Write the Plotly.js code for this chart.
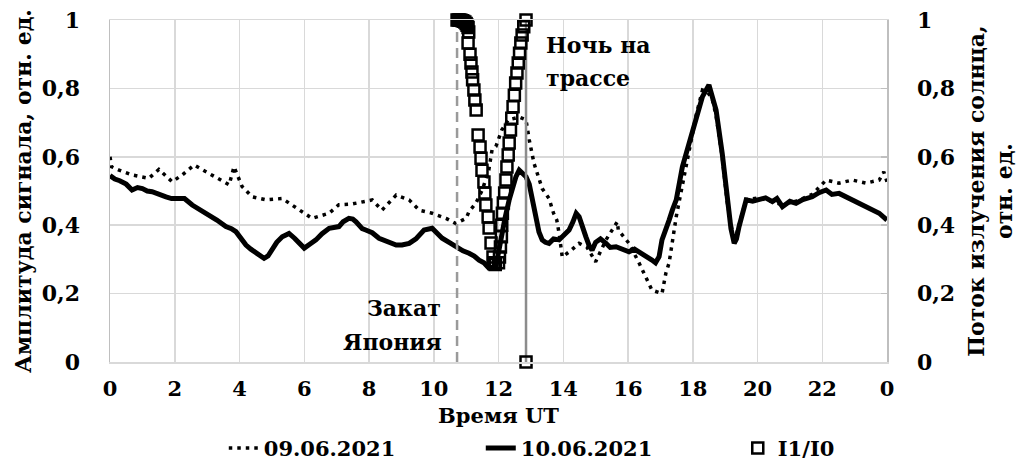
<!DOCTYPE html>
<html>
<head>
<meta charset="utf-8">
<script src="https://cdn.plot.ly/plotly-3.0.1.min.js"></script>
<style>html,body{margin:0;padding:0;background:#fff;}#chart{width:1024px;height:464px;}</style>
</head>
<body>
<div id="chart"></div>
<script>
// ---- data ----
const hours0906 = [0.0,0.05,0.28,0.68,1.2,1.51,1.92,2.23,2.6,2.97,3.37,3.68,3.83,4.08,4.39,4.82,5.32,5.84,6.24,6.77,7.07,7.48,8.1,8.4,8.84,9.24,9.55,9.95,10.38,10.68,11.0,11.09,11.3,11.5,11.7,11.8,11.92,12.1,12.3,12.64,12.85,12.95,13.1,13.35,13.56,13.7,13.8,13.87,13.97,14.25,14.49,14.73,15.0,15.32,15.67,15.7,16.03,16.34,16.55,16.74,17.05,17.17,17.27,17.37,17.49,17.67,17.9,18.1,18.3,18.45,18.6,18.72,18.91,19.06,19.28,19.43,19.65,20.05,20.46,20.77,21.19,21.69,22.12,22.52,22.93,23.35,23.76,23.9,24.0];
const values0906 = [0.60,0.571,0.561,0.547,0.537,0.563,0.527,0.547,0.576,0.556,0.532,0.518,0.571,0.513,0.483,0.474,0.478,0.444,0.42,0.435,0.46,0.462,0.474,0.444,0.488,0.474,0.444,0.435,0.42,0.405,0.42,0.44,0.464,0.503,0.561,0.62,0.63,0.678,0.708,0.716,0.708,0.649,0.58,0.507,0.478,0.435,0.415,0.377,0.307,0.327,0.347,0.336,0.293,0.357,0.41,0.386,0.347,0.29,0.25,0.21,0.20,0.26,0.29,0.347,0.425,0.512,0.62,0.72,0.795,0.79,0.77,0.72,0.6,0.47,0.35,0.40,0.475,0.48,0.47,0.46,0.47,0.49,0.532,0.523,0.532,0.523,0.532,0.556,0.527];

const hours1006 = [0.0,0.15,0.3,0.5,0.68,0.85,1.0,1.15,1.3,1.5,1.73,1.9,2.13,2.3,2.54,2.8,3.06,3.3,3.58,3.75,3.89,4.05,4.2,4.35,4.51,4.65,4.76,4.88,5.0,5.15,5.32,5.53,5.7,5.84,6.0,6.18,6.36,6.55,6.77,7.07,7.2,7.38,7.5,7.6,7.79,7.9,8.1,8.31,8.5,8.62,8.84,9.02,9.24,9.45,9.7,9.95,10.1,10.26,10.5,10.68,10.9,11.09,11.25,11.4,11.55,11.7,11.92,12.0,12.1,12.2,12.33,12.45,12.54,12.64,12.75,12.85,12.95,13.05,13.15,13.25,13.35,13.45,13.56,13.7,13.87,14.0,14.18,14.3,14.4,14.49,14.6,14.7,14.8,14.89,15.0,15.15,15.32,15.45,15.63,15.8,16.03,16.2,16.43,16.6,16.74,16.85,16.96,17.05,17.15,17.27,17.37,17.49,17.68,17.89,18.1,18.3,18.5,18.6,18.72,18.91,19.06,19.18,19.28,19.35,19.43,19.55,19.65,19.85,20.05,20.25,20.46,20.6,20.77,21.0,21.19,21.4,21.69,21.9,22.12,22.3,22.52,22.7,22.93,23.15,23.35,23.55,23.76,24.0];
const values1006 = [0.545,0.535,0.53,0.52,0.503,0.51,0.507,0.50,0.498,0.49,0.483,0.478,0.476,0.478,0.459,0.445,0.43,0.415,0.396,0.39,0.381,0.36,0.342,0.33,0.318,0.31,0.303,0.31,0.327,0.35,0.366,0.376,0.362,0.347,0.333,0.345,0.357,0.375,0.391,0.396,0.41,0.42,0.418,0.41,0.39,0.386,0.378,0.362,0.355,0.352,0.342,0.342,0.347,0.36,0.386,0.391,0.375,0.362,0.348,0.337,0.325,0.318,0.31,0.298,0.29,0.275,0.279,0.32,0.377,0.42,0.474,0.515,0.542,0.561,0.55,0.542,0.52,0.474,0.42,0.38,0.357,0.35,0.347,0.36,0.357,0.37,0.386,0.41,0.435,0.425,0.39,0.366,0.34,0.327,0.35,0.36,0.347,0.335,0.337,0.33,0.322,0.33,0.318,0.305,0.298,0.29,0.308,0.357,0.38,0.415,0.444,0.474,0.571,0.639,0.717,0.776,0.81,0.78,0.737,0.61,0.474,0.39,0.347,0.36,0.396,0.44,0.474,0.47,0.474,0.48,0.469,0.478,0.454,0.47,0.464,0.475,0.483,0.495,0.503,0.49,0.493,0.485,0.474,0.462,0.454,0.445,0.435,0.415];

const hoursI = [10.72,10.76,10.8,10.84,10.88,10.92,10.96,11.0,11.03,11.06,11.08,11.06,11.12,11.15,11.18,11.2,11.24,11.27,11.31,11.37,11.43,11.46,11.49,11.55,11.58,11.61,11.68,11.71,11.77,11.83,11.86,11.9,12.0,12.03,12.06,12.09,12.1,12.12,12.15,12.19,12.23,12.26,12.3,12.33,12.37,12.41,12.45,12.49,12.53,12.57,12.61,12.65,12.69,12.73,12.78,12.85,12.85];
const valuesI = [1.0,1.0,1.0,0.999,0.998,0.996,0.994,0.99,0.985,0.978,0.965,0.933,0.90,0.874,0.848,0.825,0.795,0.766,0.737,0.664,0.629,0.596,0.561,0.526,0.494,0.459,0.424,0.392,0.348,0.307,0.29,0.285,0.29,0.307,0.336,0.366,0.40,0.435,0.465,0.494,0.532,0.57,0.605,0.64,0.678,0.713,0.746,0.78,0.816,0.845,0.874,0.903,0.933,0.956,0.98,1.0,0.0];

const sunsetJapanHour = 10.72;   // "Закат Япония"
const nightPathHour = 12.85;     // "Ночь на трассе"

const xTickVals = [0,2,4,6,8,10,12,14,16,18,20,22,24];
const xTickText = ['0','2','4','6','8','10','12','14','16','18','20','22','0'];
const yTickVals = [0,0.2,0.4,0.6,0.8,1];
const yTickText = ['0','0,2','0,4','0,6','0,8','1'];

// ---- chart ----
const FONT = 'DejaVu Serif';
const bold = (size) => ({family: FONT, size: size, color: '#000', weight: 'bold'});

const traces = [
  {x: [sunsetJapanHour, sunsetJapanHour], y: [0, 1], yaxis: 'y2', mode: 'lines',
   line: {color: '#9a9a9a', width: 2.5, dash: '10px,6px'}, showlegend: false, hoverinfo: 'skip'},
  {x: [nightPathHour, nightPathHour], y: [0, 1], yaxis: 'y2', mode: 'lines',
   line: {color: '#8c8c8c', width: 2.5}, showlegend: false, hoverinfo: 'skip'},
  {name: '09.06.2021', x: hours0906, y: values0906, mode: 'lines',
   line: {color: '#000', width: 3.5, dash: '3.5px,5px'}},
  {name: '10.06.2021', x: hours1006, y: values1006, mode: 'lines',
   line: {color: '#000', width: 5}},
  {name: 'I1/I0', x: hoursI, y: valuesI, yaxis: 'y2', mode: 'markers', cliponaxis: false,
   marker: {symbol: 'square-open', size: 11, color: '#000', line: {width: 2.5, color: '#000'}}}
];

const layout = {
  width: 1024, height: 464,
  margin: {l: 110, r: 137, t: 20, b: 102, autoexpand: false},
  paper_bgcolor: '#fff', plot_bgcolor: '#fff',
  font: bold(21),
  showlegend: true,
  legend: {orientation: 'h', xref: 'container', x: 0.595, xanchor: 'center',
           yref: 'container', y: 0.078, yanchor: 'top',
           entrywidth: 212, entrywidthmode: 'pixels',
           font: bold(21), bgcolor: 'rgba(0,0,0,0)'},
  xaxis: {range: [0, 24], tickvals: xTickVals, ticktext: xTickText, automargin: false,
          showgrid: true, gridcolor: '#d9d9d9', gridwidth: 1.5, zeroline: false,
          showline: true, mirror: true, linecolor: '#d9d9d9', linewidth: 1.5,
          ticks: '', ticklabelstandoff: 7, tickfont: bold(21),
          title: {text: 'Время UT', font: bold(21), standoff: 20}},
  yaxis: {range: [0, 1], tickvals: yTickVals, ticktext: yTickText, automargin: false,
          showgrid: true, gridcolor: '#d9d9d9', gridwidth: 1.5, zeroline: false,
          showline: true, linecolor: '#bfbfbf', linewidth: 1.5,
          ticks: '', ticklabelstandoff: 24, tickfont: bold(22),
          title: {text: 'Амплитуда сигнала, отн. ед.', font: bold(22), standoff: 4}},
  yaxis2: {range: [0, 1], overlaying: 'y', side: 'right', tickvals: yTickVals, ticktext: yTickText,
           automargin: false, showgrid: false, zeroline: false,
           showline: true, linecolor: '#bfbfbf', linewidth: 1.5,
           ticks: 'inside', ticklen: 6, tickcolor: '#bfbfbf', tickwidth: 1.5,
           ticklabelstandoff: 24, tickfont: bold(22),
           title: {text: 'Поток излучения солнца,<br>отн. ед.', font: bold(22), standoff: 14}},
  annotations: [
    {text: 'Ночь на', xref: 'x', yref: 'y', x: 13.4, y: 0.927, xanchor: 'left', yanchor: 'middle', showarrow: false, font: bold(22)},
    {text: 'трассе', xref: 'x', yref: 'y', x: 13.4, y: 0.83, xanchor: 'left', yanchor: 'middle', showarrow: false, font: bold(22)},
    {text: 'Закат', xref: 'x', yref: 'y', x: 10.28, y: 0.158, xanchor: 'right', yanchor: 'middle', showarrow: false, font: bold(22)},
    {text: 'Япония', xref: 'x', yref: 'y', x: 10.32, y: 0.058, xanchor: 'right', yanchor: 'middle', showarrow: false, font: bold(22)}
  ]
};

Plotly.newPlot('chart', traces, layout, {displayModeBar: false, staticPlot: true});
</script>
</body>
</html>
